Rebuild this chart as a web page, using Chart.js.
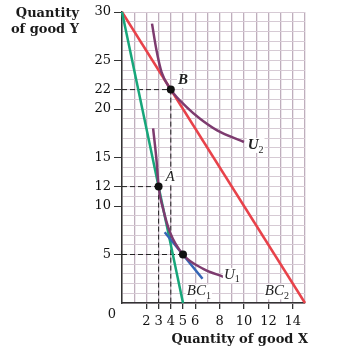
<!DOCTYPE html>
<html><head><meta charset="utf-8">
<script src="https://cdn.jsdelivr.net/npm/chart.js@4/dist/chart.umd.min.js"></script>
<style>html,body{margin:0;padding:0;background:#fff}#wrap{width:341px;height:352px;position:relative}</style>
</head><body><div id="wrap"><canvas id="c" width="341" height="352"></canvas></div>
<script>
// ---- data ----
const xTickLabels = [2, 3, 4, 5, 6, 8, 10, 12, 14];
const yTickLabels = [5, 10, 12, 15, 20, 22, 25, 30];
const budgetLine1 = [{x: 0, y: 30}, {x: 5, y: 0}];
const budgetLine2 = [{x: 0, y: 30}, {x: 15, y: 0}];
const indiff1 = [{x:2.55,y:18},{x:2.83,y:14.7},{x:3,y:12},{x:3.37,y:9.7},{x:3.93,y:7.3},{x:5,y:5},{x:6.7,y:3.5},{x:8.3,y:2.7}];
const indiff2 = [{x:2.46,y:28.8},{x:2.82,y:26.1},{x:3.24,y:23.8},{x:4,y:22},{x:5.3,y:20.2},{x:6.4,y:19.0},{x:7.8,y:17.8},{x:10,y:16.6}];
const tangentLine = [{x: 3.5, y: 7.3}, {x: 6.6, y: 2.5}];
const choicePoints = [{x: 4, y: 22}, {x: 3, y: 12}, {x: 5, y: 5}];
const dropToXAxis = [true, true, false];
const pointNames = ['B', 'A', ''];

const SERIF = '"DejaVu Serif", serif';
const LSERIF = '"Liberation Serif", serif';
const X_MIN = 0, X_MAX = 15, Y_MIN = 0, Y_MAX = 30;

// guide (dashed) segments built from the choice points
const guides = [];
choicePoints.forEach((p, i) => {
  guides.push([{x: X_MIN, y: p.y}, {x: p.x, y: p.y}]);
  if (dropToXAxis[i]) guides.push([{x: p.x, y: p.y}, {x: p.x, y: Y_MIN}]);
});

const lineDs = (data, color, width, order, extra) => Object.assign({
  data, showLine: true, borderColor: color, borderWidth: width, pointRadius: 0,
  fill: false, order, clip: false
}, extra || {});

const datasets = [];
datasets.push(lineDs(choicePoints, '#000', 0, 0, {showLine: false, pointRadius: 4, pointBackgroundColor: '#111', pointBorderColor: '#111'}));
datasets.push(lineDs(indiff2, '#7d3b6f', 2.5, 1, {cubicInterpolationMode: 'monotone'}));
datasets.push(lineDs(indiff1, '#7d3b6f', 2.5, 2, {cubicInterpolationMode: 'monotone'}));
datasets.push(lineDs(tangentLine, '#3565b5', 2.5, 3));
datasets.push(lineDs(budgetLine1, '#17a67a', 2.5, 4));
datasets.push(lineDs(budgetLine2, '#e8424a', 2.5, 5));
guides.forEach(g => datasets.push(lineDs(g, '#222', 1, 6, {borderDash: [5, 3]})));

const labelPlugin = {
  id: 'labels',
  afterDatasetsDraw(chart) {
    const ctx = chart.ctx, xs = chart.scales.x, ys = chart.scales.y;
    const label = (main, sub, xv, yv, bold) => {
      const px = xs.getPixelForValue(xv), py = ys.getPixelForValue(yv);
      ctx.save();
      ctx.font = (bold ? 'italic bold ' : 'italic ') + '15px ' + LSERIF;
      const w1 = ctx.measureText(main).width;
      ctx.font = '10px ' + LSERIF;
      const w2 = sub ? ctx.measureText(sub).width : 0;
      const w = w1 + w2;
      ctx.fillStyle = '#fff';
      ctx.fillRect(px - w / 2 - 1, py - 7, w + 2, 15);
      ctx.fillStyle = '#222';
      ctx.textBaseline = 'middle';
      ctx.textAlign = 'left';
      ctx.font = (bold ? 'italic bold ' : 'italic ') + '15px ' + LSERIF;
      ctx.fillText(main, px - w / 2, py);
      if (sub) { ctx.font = '10px ' + LSERIF; ctx.fillText(sub, px - w / 2 + w1, py + 5); }
      ctx.restore();
    };
    label(pointNames[0], '', 5.0, 23.0, true);
    label(pointNames[1], '', 3.95, 13.0, false);
    label('U', '2', 10.95, 16.3, true);
    label('U', '1', 9.0, 2.9, false);
    label('BC', '1', 6.3, 1.2, false);
    label('BC', '2', 12.7, 1.2, false);

    ctx.save();
    ctx.fillStyle = '#1a1a1a';
    ctx.font = 'bold 13px ' + SERIF;
    ctx.textAlign = 'right';
    ctx.textBaseline = 'alphabetic';
    ctx.fillText('Quantity', 79, 17);
    ctx.fillText('of good Y', 79, 33);
    ctx.fillText('Quantity of good X', xs.right + 3, 343);
    ctx.font = '13px ' + SERIF;
    ctx.textAlign = 'center';
    ctx.textBaseline = 'middle';
    ctx.fillText('0', xs.left - 10, ys.bottom + 12);
    ctx.restore();
  }
};

new Chart(document.getElementById('c'), {
  type: 'scatter',
  data: {datasets},
  options: {
    responsive: false, animation: false, devicePixelRatio: 1,
    layout: {padding: {top: 12, right: 36, left: 0, bottom: 0}},
    plugins: {legend: {display: false}, tooltip: {enabled: false}},
    scales: {
      x: {
        type: 'linear', min: X_MIN, max: X_MAX,
        afterBuildTicks: s => { const t = []; for (let v = X_MIN; v <= X_MAX; v++) t.push({value: v}); s.ticks = t; },
        afterFit: s => { s.height = 49; },
        ticks: {autoSkip: false, maxRotation: 0, padding: 5, color: '#111', font: {family: SERIF, size: 13},
          callback: v => xTickLabels.includes(v) ? String(v) : ''},
        grid: {color: '#bfaebd', lineWidth: 1.3, tickLength: 6,
          tickColor: c => (c.tick && xTickLabels.includes(c.tick.value)) ? '#333' : 'rgba(0,0,0,0)'},
        border: {color: '#333', width: 1.5}
      },
      y: {
        type: 'linear', min: Y_MIN, max: Y_MAX,
        afterBuildTicks: s => { const t = []; for (let v = Y_MIN; v <= Y_MAX; v++) t.push({value: v}); s.ticks = t; },
        afterFit: s => { s.width = 122; },
        ticks: {autoSkip: false, padding: 3, color: '#111', font: {family: SERIF, size: 13},
          callback: v => yTickLabels.includes(v) ? String(v) : ''},
        grid: {color: '#d6cad4', lineWidth: 1, tickLength: 8,
          tickColor: c => (c.tick && yTickLabels.includes(c.tick.value)) ? '#333' : 'rgba(0,0,0,0)'},
        border: {color: '#333', width: 1.5}
      }
    }
  },
  plugins: [labelPlugin]
});
</script></body></html>
